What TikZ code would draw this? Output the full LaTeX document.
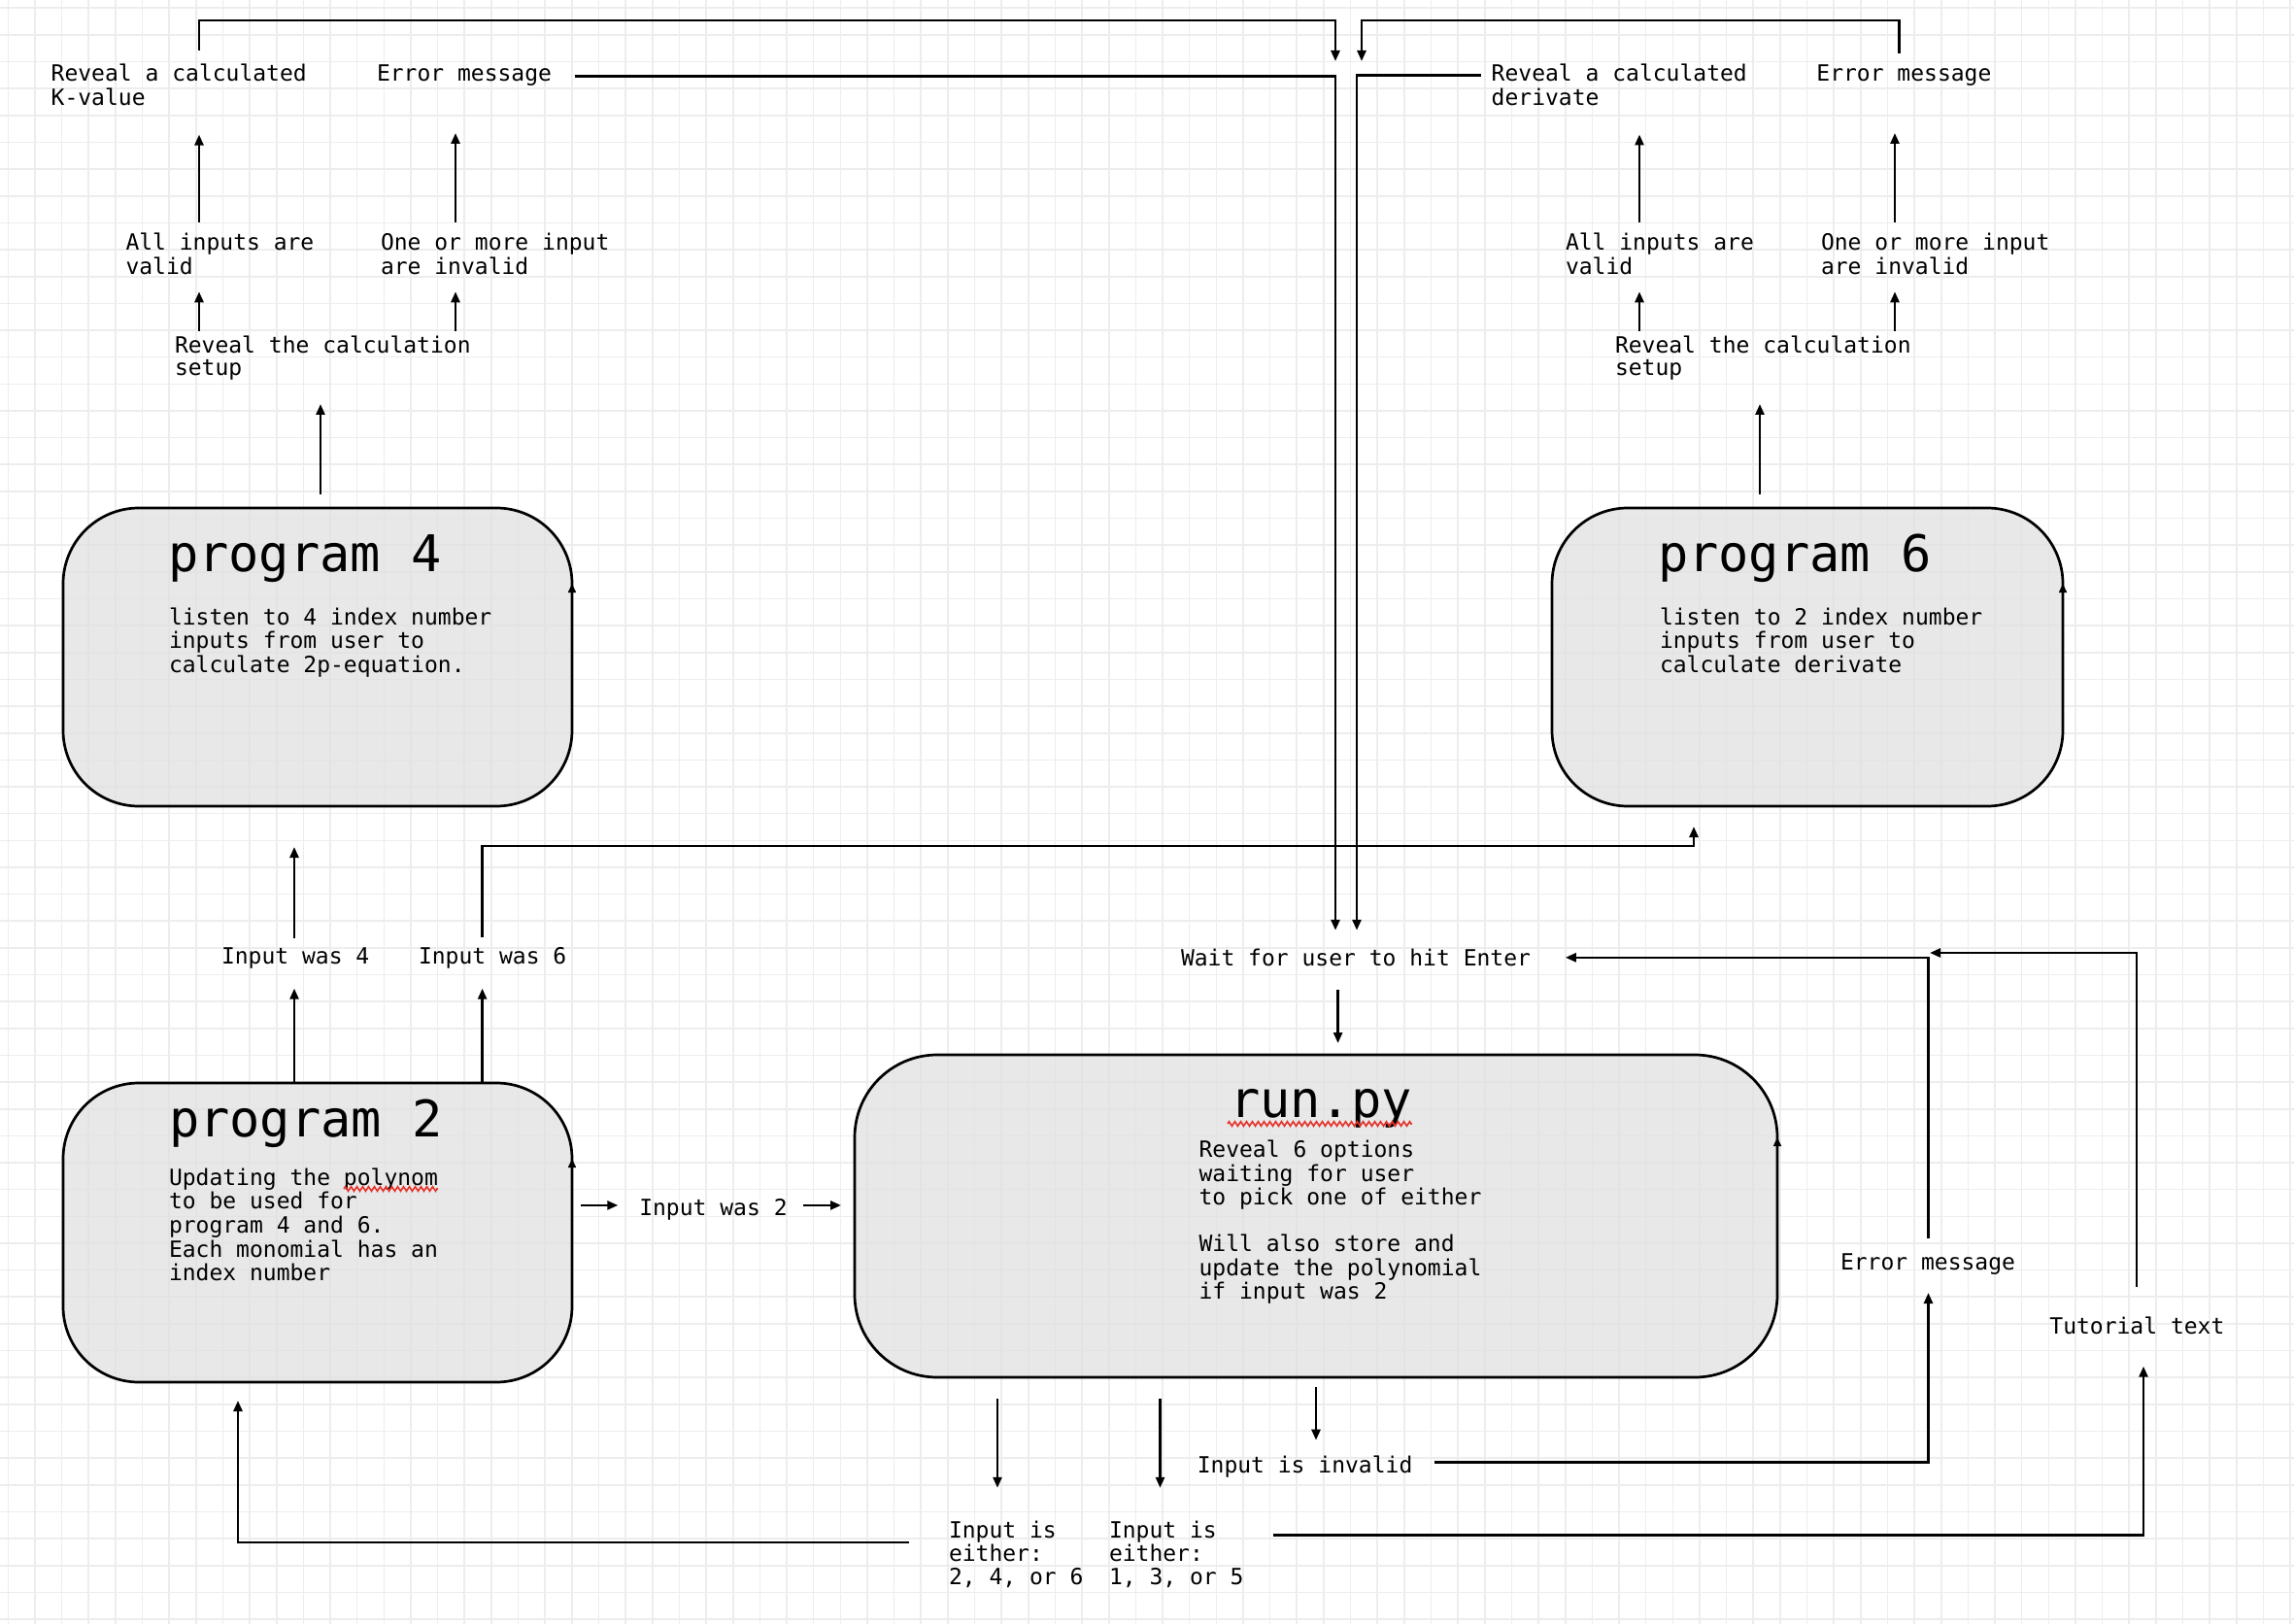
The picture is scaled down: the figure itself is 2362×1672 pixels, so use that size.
\documentclass[tikz,border=0pt]{standalone}
\usepackage{fontspec}
\newfontfamily\dmono{DejaVu Sans Mono}
\usetikzlibrary{arrows.meta,decorations.pathmorphing,calc}

% left-aligned multi-line text whose baseline is that of its first line
\newcommand{\mlines}[1]{\begin{tabular}[t]{@{}l@{}}#1\end{tabular}}

\definecolor{boxfill}{HTML}{E0E0E0}
\definecolor{spellred}{HTML}{E5332A}

\begin{document}
\begin{tikzpicture}[x=1pt,y=-1pt,
  gridline/.style={line width=1.6pt, draw=black!7},
  txt/.style={inner sep=0pt, outer sep=0pt, anchor=base west,
    font=\dmono\fontsize{23}{23.3}\selectfont},
  ttl/.style={inner sep=0pt, outer sep=0pt, anchor=base west,
    font=\dmono\fontsize{52}{56}\selectfont},
  prog/.style={draw=black, line width=2.7pt, rounded corners=78pt,
    fill=boxfill, fill opacity=0.72, inner sep=0pt, outer sep=0pt},
  arr/.style={line width=2.5pt, -{Triangle[length=11pt,width=9pt]}},
  sidetip/.style={line width=1.6pt, -{Triangle[length=9pt,width=8pt]}},
  spell/.style={draw=spellred, line width=1.6pt, decorate,
    decoration={zigzag, amplitude=2.3pt, segment length=6pt}}
]
\useasboundingbox (0,0) rectangle (2362,1672);
\fill[white] (0,0) rectangle (2362,1672);

% squared paper
\foreach \i in {0,...,85}
  \draw[gridline] ({8.3+27.645*\i},0) -- ({8.3+27.645*\i},1672);
\foreach \j in {0,...,60}
  \draw[gridline] (0,{8.3+27.645*\j}) -- (2362,{8.3+27.645*\j});

% ---- program boxes ----
\node[prog, minimum width=524pt, minimum height=307pt] (p4) at (327,676.5) {};
\node[prog, minimum width=526pt, minimum height=307pt] (p6) at (1861,676.5) {};
\node[prog, minimum width=524pt, minimum height=308pt] (p2) at (327,1269) {};
\node[prog, rounded corners=85pt, minimum width=950pt, minimum height=332pt] (run) at (1355,1252) {};

\foreach \b/\r in {p4/78,p6/78,p2/78,run/85}
  \draw[sidetip] ($(\b.north east)+(0,\r+14)$) -- ($(\b.north east)+(0,\r)$);

\node[ttl] (p4t) at (173,588) {program 4};
\node[txt] (p4b) at (174,643) {\mlines{listen to 4 index number\\inputs from user to\\calculate 2p-equation.}};

\node[ttl] (p6t) at (1707,588) {program 6};
\node[txt] (p6b) at (1709,643) {\mlines{listen to 2 index number\\inputs from user to\\calculate derivate}};

\node[ttl] (p2t) at (174,1170.6) {program 2};
\node[txt] (p2b) at (174,1220.5) {\mlines{Updating the polynom\\to be used for\\program 4 and 6.\\Each monomial has an\\index number}};

\node[ttl] (runt) at (1266,1150) {run.py};
\node[txt] (runb) at (1234.6,1191.7) {\mlines{Reveal 6 options\\waiting for user\\to pick one of either\\ \\Will also store and\\update the polynomial\\if input was 2}};

% spell-check marks
\draw[spell] ($(runt.base west)+(-2,7)$) -- ($(runt.base east)+(0,7)$);
\draw[spell] ($(p2b.base west)+(180,3.5)$) -- ($(p2b.base west)+(277,3.5)$);

% ---- labels ----
\node[txt] (revealL) at (52.7,84) {\mlines{Reveal a calculated\\K-value}};
\node[txt] (errL) at (388,84) {\mlines{Error message}};
\node[txt] (allL) at (129.5,258) {\mlines{All inputs are\\valid}};
\node[txt] (oneL) at (392,258) {\mlines{One or more input\\are invalid}};
\node[txt] (setupL) at (180,363) {\mlines{Reveal the calculation\\setup}};

\node[txt] (revealR) at (1535.7,84) {\mlines{Reveal a calculated\\derivate}};
\node[txt] (errR) at (1870.4,84) {\mlines{Error message}};
\node[txt] (allR) at (1612,258) {\mlines{All inputs are\\valid}};
\node[txt] (oneR) at (1875,258) {\mlines{One or more input\\are invalid}};
\node[txt] (setupR) at (1663,363) {\mlines{Reveal the calculation\\setup}};

\node[txt] (in4) at (228,992.7) {\mlines{Input was 4}};
\node[txt] (in6) at (431,992.7) {\mlines{Input was 6}};
\node[txt] (in2) at (658.3,1251) {\mlines{Input was 2}};
\node[txt] (wait) at (1216,994) {\mlines{Wait for user to hit Enter}};
\node[txt] (errLow) at (1895,1307) {\mlines{Error message}};
\node[txt] (tutorial) at (2110.4,1373) {\mlines{Tutorial text}};
\node[txt] (invalid) at (1232.8,1516.7) {\mlines{Input is invalid}};
\node[txt] (either1) at (977,1583) {\mlines{Input is\\either:\\2, 4, or 6}};
\node[txt] (either2) at (1142,1583) {\mlines{Input is\\either:\\1, 3, or 5}};

% ---- routing points ----
\coordinate (railL) at (205,21);
\coordinate (railR) at (1955.6,21);
\coordinate (joinL) at (1375,63);
\coordinate (joinR) at (1402,63);
\coordinate (laneL) at (1375,0);
\coordinate (laneR) at (1397,0);
\coordinate (colA) at (205,0);
\coordinate (colB) at (469,0);
\coordinate (colC) at (330,0);
\coordinate (colD) at (1688,0);
\coordinate (colE) at (1951,0);
\coordinate (colF) at (1812,0);
\coordinate (col4) at (303,0);
\coordinate (col6) at (496.6,0);
\coordinate (colW) at (1377.6,0);
\coordinate (colI) at (1355,0);
\coordinate (colX) at (1027,0);
\coordinate (colY) at (1194.5,0);
\coordinate (colErr) at (1985.5,0);
\coordinate (colTut) at (2200,0);
\coordinate (colTut2) at (2207,0);
\coordinate (colBack) at (245,0);
\coordinate (p6in) at ($(p6.south)+(-117,21)$);
\coordinate (tutJoin) at (1987,981);

% ---- program 4 branch ----
\draw[arr] ($(p4.north -| colC)+(0,-14)$) -- ($(setupL.south -| colC)+(0,22.7)$);
\draw[arr] ($(setupL.north -| colA)+(0,-4.7)$) -- ($(allL.south -| colA)+(0,10.7)$);
\draw[arr] ($(setupL.north -| colB)+(0,-4.7)$) -- ($(oneL.south -| colB)+(0,10.7)$);
\draw[arr] ($(allL.north -| colA)+(0,-11.7)$) -- ($(revealL.south -| colA)+(0,23)$);
\draw[arr] ($(oneL.north -| colB)+(0,-11.7)$) -- ($(errL.south -| colB)+(0,46)$);
\draw[arr] ($(revealL.north -| railL)+(0,-14.7)$) -- (railL) -| (joinL);
\draw[arr] ($(errL.north east)+(23.5,11.3)$) -| ($(wait.north -| laneL)+(0,-18.7)$);

% ---- program 6 branch ----
\draw[arr] ($(p6.north -| colF)+(0,-14)$) -- ($(setupR.south -| colF)+(0,22.7)$);
\draw[arr] ($(setupR.north -| colD)+(0,-4.7)$) -- ($(allR.south -| colD)+(0,10.7)$);
\draw[arr] ($(setupR.north -| colE)+(0,-4.7)$) -- ($(oneR.south -| colE)+(0,10.7)$);
\draw[arr] ($(allR.north -| colD)+(0,-11.7)$) -- ($(revealR.south -| colD)+(0,23)$);
\draw[arr] ($(oneR.north -| colE)+(0,-11.7)$) -- ($(errR.south -| colE)+(0,46)$);
\draw[arr] ($(errR.north -| railR)+(0,-12.7)$) -- (railR) -| (joinR);
\draw[arr] ($(revealR.north west)+(-11.2,11.3)$) -| ($(wait.north -| laneR)+(0,-18.7)$);

% ---- program 2 and its choices ----
\draw[arr] ($(in4.north -| col4)+(0,-10.4)$) -- ($(p4.south -| col4)+(0,42)$);
\draw[arr] (p2.north -| col4) -- ($(in4.south -| col4)+(0,18)$);
\draw[arr] (p2.north -| col6) -- ($(in6.south -| col6)+(0,18)$);
\draw[arr] ($(in6.north -| col6)+(0,-10.4)$) |- ($(p6in)+(0,20)$) -- (p6in);
\draw[arr] ($(p2.east |- in2.north)+(9,7)$) -- ($(in2.north west)+(-22,7)$);
\draw[arr] ($(in2.north east)+(16.4,7)$) -- ($(run.west |- in2.north)+(-14,7)$);

% ---- run.py ----
\draw[arr] ($(wait.south -| colW)+(0,18)$) -- ($(run.north -| colW)+(0,-12)$);
\draw[arr] ($(run.south -| colI)+(0,10)$) -- ($(invalid.north -| colI)+(0,-16.4)$);
\draw[arr] ($(run.south -| colX)+(0,22)$) -- ($(either1.north -| colX)+(0,-33.7)$);
\draw[arr] ($(run.south -| colY)+(0,22)$) -- ($(either2.north -| colY)+(0,-33.7)$);
\draw[arr] ($(invalid.north east)+(22.5,6.3)$) -| ($(errLow.south -| colErr)+(0,17)$);
\draw[arr] ($(errLow.north -| colErr)+(0,-15.7)$) |- ($(wait.north east)+(35.8,9.3)$);
\draw[arr] ($(tutorial.north -| colTut)+(0,-30.7)$) |- (tutJoin);
\draw[arr] ($(either1.north west)+(-41,22.6)$) -| ($(p2.south -| colBack)+(0,19)$);
\draw[arr] ($(either2.north east)+(30.5,15)$) -| ($(tutorial.south -| colTut2)+(0,26.7)$);
\end{tikzpicture}
\end{document}
